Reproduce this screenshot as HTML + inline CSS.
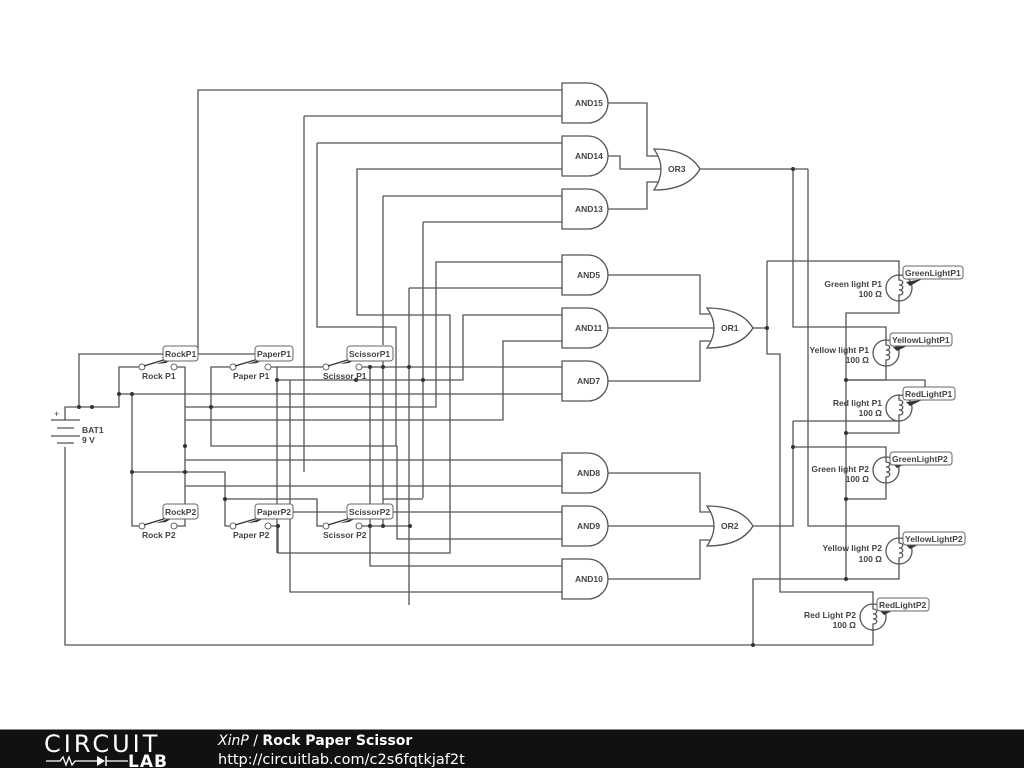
<!DOCTYPE html>
<html><head><meta charset="utf-8"><style>
html,body{margin:0;padding:0;background:#fff;width:1024px;height:768px;overflow:hidden}
svg{display:block}
text{font-family:"Liberation Sans",Arial,sans-serif;font-weight:bold;font-size:8.5px;fill:#444}
.w{fill:none;stroke:#555;stroke-width:1.3}
.g{fill:#fff;stroke:#555;stroke-width:1.3}
.b{fill:#fff;stroke:#666;stroke-width:1}
.d{fill:#333}
</style></head><body>
<svg width="1024" height="768" viewBox="0 0 1024 768">
<g class="w">
<polyline points="65,447 65,645 873,645"/>
<polyline points="65,420 65,407 119,407 119,367 142,367"/>
<polyline points="79,407 79,354 163,354"/>
<polyline points="197,354 255,354"/>
<polyline points="198,354 198,90 562,90"/>
<polyline points="119,394 562,394"/>
<polyline points="211,394 211,367 233,367"/>
<polyline points="132,394 132,526 142,526"/>
<polyline points="174,367 185,367 185,526 174,526"/>
<polyline points="185,407 436,407 436,262 562,262"/>
<polyline points="185,420 503,420 503,341 562,341"/>
<polyline points="211,394 211,446 397,446 397,539 562,539"/>
<polyline points="185,460 562,460"/>
<polyline points="132,472 225,472 225,526 233,526"/>
<polyline points="185,486 562,486"/>
<polyline points="225,499 317,499 317,526 326,526"/>
<polyline points="292,512 346,512"/>
<polyline points="392,512 562,512"/>
<polyline points="268,526 278,526 278,553 450,553 450,315 357,315 357,169 562,169"/>
<polyline points="268,367 326,367"/>
<polyline points="277,367 277,380 463,380 463,315 562,315"/>
<polyline points="277,380 277,553"/>
<polyline points="290,380 290,592 562,592"/>
<polyline points="359,367 562,367"/>
<polyline points="304,116 562,116"/>
<polyline points="304,116 304,472"/>
<polyline points="317,143 562,143"/>
<polyline points="317,143 317,327 396,327 396,446"/>
<polyline points="383,196 562,196"/>
<polyline points="383,196 383,345"/>
<polyline points="383,361 383,526"/>
<polyline points="423,222 562,222"/>
<polyline points="423,222 423,498"/>
<polyline points="409,288 562,288"/>
<polyline points="409,288 409,605"/>
<polyline points="370,367 370,566 562,566"/>
<polyline points="359,526 410,526"/>
<polyline points="383,499 423,499"/>
<polyline points="608,103 647,103 647,156 658,156"/>
<polyline points="608,156 620,156 620,169 662,169"/>
<polyline points="608,209 647,209 647,182 658,182"/>
<polyline points="700,169 808,169"/>
<polyline points="793,169 793,327 886,327 886,340"/>
<polyline points="808,169 808,526 899,526 899,538"/>
<polyline points="608,275 700,275 700,314 711,314"/>
<polyline points="608,328 715,328"/>
<polyline points="608,381 700,381 700,341 711,341"/>
<polyline points="753,328 767,328"/>
<polyline points="767,261 767,354 780,354 780,592 873,592 873,604"/>
<polyline points="767,261 899,261 899,275"/>
<polyline points="899,301 899,313 846,313 846,579"/>
<polyline points="886,366 886,380 846,380"/>
<polyline points="846,380 925,380 925,395 912,395"/>
<polyline points="793,421 899,421"/>
<polyline points="846,433 899,433 899,421"/>
<polyline points="793,447 886,447 886,457"/>
<polyline points="886,483 886,499 846,499"/>
<polyline points="753,526 793,526 793,421"/>
<polyline points="608,473 700,473 700,512 711,512"/>
<polyline points="608,526 715,526"/>
<polyline points="608,579 700,579 700,540 711,540"/>
<polyline points="899,564 899,579 753,579 753,645"/>
<polyline points="873,630 873,645"/>
</g>
<g class="d">
<circle cx="79" cy="407" r="2"/><circle cx="92" cy="407" r="2"/><circle cx="119" cy="394" r="2"/><circle cx="132" cy="394" r="2"/>
<circle cx="211" cy="407" r="2"/><circle cx="185" cy="446" r="2"/><circle cx="132" cy="472" r="2"/><circle cx="185" cy="472" r="2"/>
<circle cx="225" cy="499" r="2"/><circle cx="277" cy="380" r="2"/><circle cx="278" cy="526" r="2"/><circle cx="370" cy="367" r="2"/>
<circle cx="383" cy="367" r="2"/><circle cx="356" cy="380" r="2"/><circle cx="409" cy="367" r="2"/><circle cx="423" cy="380" r="2"/>
<circle cx="370" cy="526" r="2"/><circle cx="383" cy="526" r="2"/><circle cx="410" cy="526" r="2"/>
<circle cx="793" cy="169" r="2"/><circle cx="767" cy="328" r="2"/><circle cx="846" cy="380" r="2"/><circle cx="846" cy="433" r="2"/>
<circle cx="846" cy="499" r="2"/><circle cx="793" cy="447" r="2"/><circle cx="846" cy="579" r="2"/><circle cx="753" cy="645" r="2"/>
</g>
<g stroke="#555" stroke-width="1.3">
<line x1="51" y1="420" x2="80" y2="420"/><line x1="57" y1="428" x2="74" y2="428"/>
<line x1="51" y1="436" x2="80" y2="436"/><line x1="57" y1="443" x2="74" y2="443"/>
</g>
<text x="54" y="417" style="font-weight:normal;font-size:9px">+</text>
<text x="82" y="433">BAT1</text><text x="82" y="443">9 V</text>
<g class="g">
<path d="M562,83 h26 a20,20 0 0 1 0,40 h-26 z"/>
<path d="M562,136 h26 a20,20 0 0 1 0,40 h-26 z"/>
<path d="M562,189 h26 a20,20 0 0 1 0,40 h-26 z"/>
<path d="M562,255 h26 a20,20 0 0 1 0,40 h-26 z"/>
<path d="M562,308 h26 a20,20 0 0 1 0,40 h-26 z"/>
<path d="M562,361 h26 a20,20 0 0 1 0,40 h-26 z"/>
<path d="M562,453 h26 a20,20 0 0 1 0,40 h-26 z"/>
<path d="M562,506 h26 a20,20 0 0 1 0,40 h-26 z"/>
<path d="M562,559 h26 a20,20 0 0 1 0,40 h-26 z"/>
<path d="M654,149 Q688,149 700,169 Q688,190 654,190 Q668,169 654,149 z"/>
<path d="M707,308 Q741,308 753,328 Q741,348 707,348 Q721,328 707,308 z"/>
<path d="M707,506 Q741,506 753,526 Q741,546 707,546 Q721,526 707,506 z"/>
</g>
<g>
<text x="575" y="106">AND15</text><text x="575" y="159">AND14</text><text x="575" y="212">AND13</text>
<text x="577" y="278">AND5</text><text x="575" y="331">AND11</text><text x="577" y="384">AND7</text>
<text x="577" y="476">AND8</text><text x="577" y="529">AND9</text><text x="575" y="582">AND10</text>
<text x="668" y="172">OR3</text><text x="721" y="331">OR1</text><text x="721" y="529">OR2</text>
</g>
<g>
<g class="b">
<circle cx="142" cy="367" r="3"/><circle cx="174" cy="367" r="3"/>
<circle cx="233" cy="367" r="3"/><circle cx="268" cy="367" r="3"/>
<circle cx="326" cy="367" r="3"/><circle cx="359" cy="367" r="3"/>
<circle cx="142" cy="526" r="3"/><circle cx="174" cy="526" r="3"/>
<circle cx="233" cy="526" r="3"/><circle cx="268" cy="526" r="3"/>
<circle cx="326" cy="526" r="3"/><circle cx="359" cy="526" r="3"/>
</g>
<g stroke="#333" stroke-width="1.3">
<line x1="144" y1="366" x2="170" y2="358"/><line x1="235" y1="366" x2="262" y2="358"/><line x1="328" y1="366" x2="354" y2="358"/>
<line x1="144" y1="525" x2="170" y2="517"/><line x1="235" y1="525" x2="262" y2="517"/><line x1="328" y1="525" x2="354" y2="517"/>
</g>
<g fill="#333">
<polygon points="156,364 174,358 166,363"/><polygon points="247,364 266,358 257,363"/><polygon points="340,364 358,358 349,363"/>
<polygon points="156,523 174,517 166,522"/><polygon points="247,523 266,517 257,522"/><polygon points="340,523 358,517 349,522"/>
</g>
<g class="b">
<rect x="163" y="346" width="35" height="15" rx="3"/><rect x="255" y="346" width="38" height="15" rx="3"/><rect x="347" y="346" width="46" height="15" rx="3"/>
<rect x="163" y="504" width="35" height="15" rx="3"/><rect x="255" y="504" width="38" height="15" rx="3"/><rect x="347" y="504" width="46" height="15" rx="3"/>
</g>
<text x="165" y="357">RockP1</text><text x="257" y="357">PaperP1</text><text x="349" y="357">ScissorP1</text>
<text x="165" y="515">RockP2</text><text x="257" y="515">PaperP2</text><text x="349" y="515">ScissorP2</text>
<text x="142" y="379">Rock P1</text><text x="233" y="379">Paper P1</text><text x="323" y="379">Scissor P1</text>
<text x="142" y="538">Rock P2</text><text x="233" y="538">Paper P2</text><text x="323" y="538">Scissor P2</text>
</g>
<g class="g">
<circle cx="899" cy="288" r="13"/><circle cx="886" cy="353" r="13"/><circle cx="899" cy="408" r="13"/>
<circle cx="886" cy="470" r="13"/><circle cx="899" cy="551" r="13"/><circle cx="873" cy="617" r="13"/>
</g>
<g class="w">
<path d="M899,275 v5 c5,0 5,5 0,5 c5,0 5,5 0,5 c5,0 5,5 0,5 v6"/>
<path d="M886,340 v5 c5,0 5,5 0,5 c5,0 5,5 0,5 c5,0 5,5 0,5 v6"/>
<path d="M899,395 v5 c5,0 5,5 0,5 c5,0 5,5 0,5 c5,0 5,5 0,5 v6"/>
<path d="M886,457 v5 c5,0 5,5 0,5 c5,0 5,5 0,5 c5,0 5,5 0,5 v6"/>
<path d="M899,538 v5 c5,0 5,5 0,5 c5,0 5,5 0,5 c5,0 5,5 0,5 v6"/>
<path d="M873,604 v5 c5,0 5,5 0,5 c5,0 5,5 0,5 c5,0 5,5 0,5 v6"/>
</g>
<g fill="#333">
<polygon points="906,282 922,279 910,286"/><polygon points="893,347 909,345 897,351"/><polygon points="906,402 922,400 910,406"/>
<polygon points="893,464 909,462 897,468"/><polygon points="906,545 922,543 910,549"/><polygon points="880,611 896,609 884,615"/>
</g>
<g class="b">
<rect x="903" y="266" width="60" height="13" rx="3"/><rect x="890" y="333" width="62" height="13" rx="3"/><rect x="903" y="387" width="52" height="13" rx="3"/>
<rect x="890" y="452" width="62" height="13" rx="3"/><rect x="903" y="532" width="62" height="13" rx="3"/><rect x="877" y="598" width="52" height="13" rx="3"/>
</g>
<text x="905" y="276">GreenLightP1</text><text x="892" y="343">YellowLightP1</text><text x="905" y="397">RedLightP1</text>
<text x="892" y="462">GreenLightP2</text><text x="905" y="542">YellowLightP2</text><text x="879" y="608">RedLightP2</text>
<g text-anchor="end">
<text x="882" y="287">Green light P1</text><text x="882" y="297">100 Ω</text>
<text x="869" y="353">Yellow light P1</text><text x="869" y="363">100 Ω</text>
<text x="882" y="406">Red light P1</text><text x="882" y="416">100 Ω</text>
<text x="869" y="472">Green light P2</text><text x="869" y="482">100 Ω</text>
<text x="882" y="551">Yellow light P2</text><text x="882" y="562">100 Ω</text>
<text x="856" y="618">Red Light P2</text><text x="856" y="628">100 Ω</text>
</g>
<rect x="0" y="729" width="1024" height="39" fill="#111"/>
<line x1="0" y1="729.5" x2="1024" y2="729.5" stroke="#888"/>
<text x="44" y="752" style="font-family:'DejaVu Sans','Liberation Sans',sans-serif;font-weight:normal;font-size:24px;fill:#fff;letter-spacing:3px">CIRCUIT</text>
<polyline points="46,761 60,761 63,757 66,765 69,757 72,765 75,761 97,761" fill="none" stroke="#fff" stroke-width="1.3"/>
<polygon points="97,756 97,766 105,761" fill="#fff"/><line x1="106" y1="756" x2="106" y2="766" stroke="#fff" stroke-width="1.5"/>
<line x1="106" y1="761" x2="128" y2="761" stroke="#fff" stroke-width="1.3"/>
<text x="128" y="767" style="font-family:'DejaVu Sans','Liberation Sans',sans-serif;font-weight:bold;font-size:17px;fill:#fff;letter-spacing:1px">LAB</text>
<text x="218" y="745" style="font-family:'DejaVu Sans','Liberation Sans',sans-serif;font-weight:normal;font-size:14px;fill:#fff"><tspan font-style="italic">XinP</tspan> / <tspan font-weight="bold">Rock Paper Scissor</tspan></text>
<text x="218" y="764" style="font-family:'DejaVu Sans','Liberation Sans',sans-serif;font-weight:normal;font-size:14.5px;fill:#fff">http://circuitlab.com/c2s6fqtkjaf2t</text>
</svg>
</body></html>
